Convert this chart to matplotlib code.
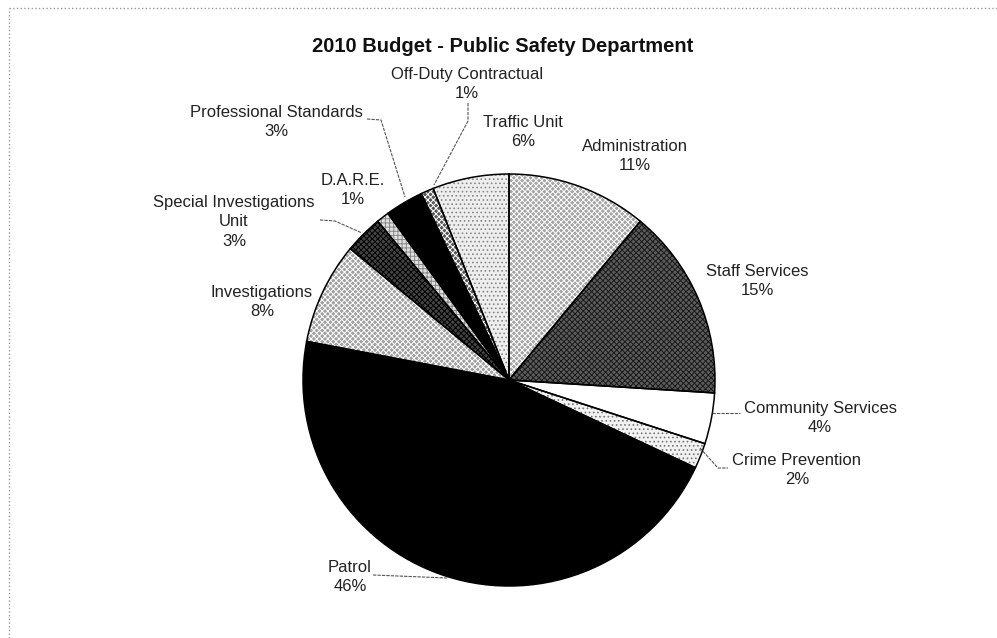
import matplotlib.pyplot as plt
from matplotlib.lines import Line2D

plt.rcParams['font.family'] = ['Liberation Sans', 'DejaVu Sans']
plt.rcParams['hatch.linewidth'] = 0.7

# Budget shares, clockwise from 12 o'clock
departments = ["Administration", "Staff Services", "Community Services",
               "Crime Prevention", "Patrol", "Investigations",
               "Special Investigations\nUnit", "D.A.R.E.",
               "Professional Standards", "Off-Duty Contractual", "Traffic Unit"]
shares = [11, 15, 4, 2, 46, 8, 3, 1, 3, 1, 6]

# fill, hatch, hatch colour per slice (greyscale print look)
fills = ['#a4a4a4', '#5c5c5c', '#ffffff', '#f2f2f2', '#000000', '#a0a0a0',
         '#444444', '#e0e0e0', '#000000', '#555555', '#eeeeee']
hatches = ['xxxxxx', 'xxxxxx', '', '....', '', 'xxxxxx',
           'xxxxxx', '++++', '', 'xxxxxx', '....']
hatch_cols = ['#ffffff', '#1a1a1a', '#ffffff', '#777777', '#000000', '#ffffff',
              '#000000', '#888888', '#000000', '#ffffff', '#888888']

W, H = 997, 638
fig = plt.figure(figsize=(9.97, 6.38), dpi=100)
ax = fig.add_axes([0, 0, 1, 1])


def py(y):
    # screen-style y (from top) to axes y
    return H - y


cx, cy, r = 509, 380, 206
wedges, _ = ax.pie(shares, startangle=90, counterclock=False,
                   center=(cx, py(cy)), radius=r, frame=True)
for w, fc, h, hc in zip(wedges, fills, hatches, hatch_cols):
    w.set_facecolor(fc)
    w.set_hatch(h)
    w.set_edgecolor(hc)
    w.set_linewidth(0)

# black outlines on top of the hatched slices
ax.pie(shares, startangle=90, counterclock=False,
       center=(cx, py(cy)), radius=r, frame=True,
       wedgeprops=dict(facecolor='none', edgecolor='black', linewidth=1.1))
ax.set_xlim(0, W)
ax.set_ylim(0, H)
ax.set_aspect('equal')
ax.axis('off')

# label centres (x, y from top)
label_pos = [(635, 156), (757, 281), (820, 418), (797, 470), (350, 577),
             (262, 302), (234, 222), (353, 190), (276, 122), (467, 84),
             (523, 132)]
for name, val, (lx, ly) in zip(departments, shares, label_pos):
    ax.text(lx, py(ly), f"{name}\n{val}%", ha='center', va='center',
            fontsize=12, color='#222222', linespacing=1.35)

# leader lines
leaders = [
    [(468, 103), (468, 121), (434, 185)],
    [(367, 119), (381, 120), (405, 197)],
    [(320, 220), (335, 221), (362, 233)],
    [(712, 413), (740, 413)],
    [(700, 448), (718, 468), (728, 468)],
    [(373, 575), (447, 578)],
]
for pts in leaders:
    xs = [p[0] for p in pts]
    ys = [py(p[1]) for p in pts]
    ax.plot(xs, ys, color='#555555', lw=0.8, linestyle=(0, (3, 1)))

ax.text(503, py(47), "2010 Budget - Public Safety Department",
        ha='center', va='center', fontsize=14.5, fontweight='bold',
        color='#111111')

# page border
fig.add_artist(Line2D([9 / W, 1], [1 - 8 / H, 1 - 8 / H], color='#999999',
                      lw=1, linestyle=':', transform=fig.transFigure))
fig.add_artist(Line2D([9 / W, 9 / W], [0, 1 - 8 / H], color='#999999',
                      lw=1, linestyle=':', transform=fig.transFigure))

fig.savefig("out.png", dpi=100, facecolor='white')
